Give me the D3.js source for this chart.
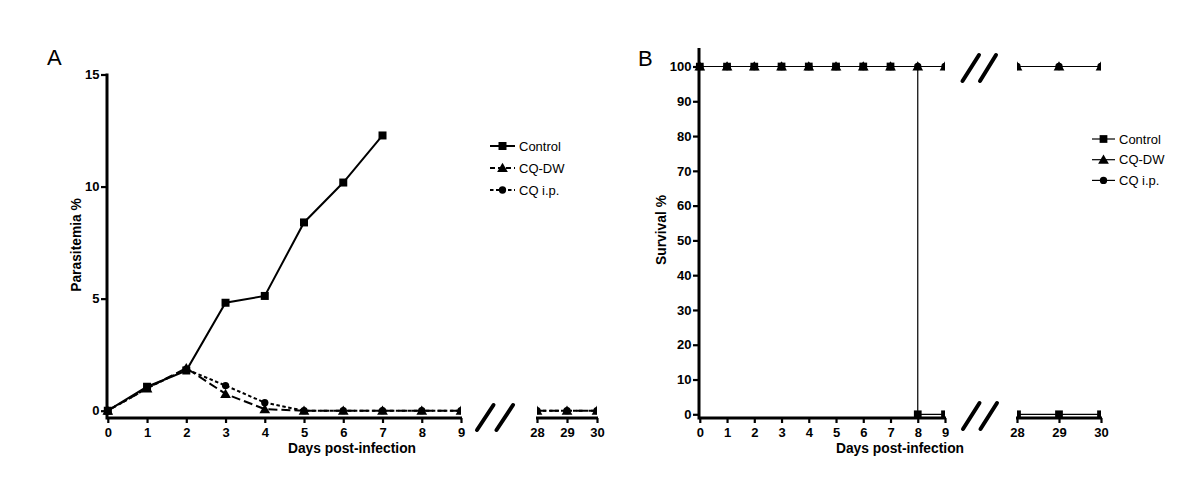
<!DOCTYPE html>
<html>
<head>
<meta charset="utf-8">
<script src="https://cdn.jsdelivr.net/npm/d3@7/dist/d3.min.js"></script>
<style>
  html, body { margin: 0; padding: 0; background: #fff; }
  svg { display: block; }
  text { font-family: "Liberation Sans", Arial, Helvetica, sans-serif; }
</style>
</head>
<body>
<svg id="chart" width="1200" height="484"></svg>
<script>
// ---------------- DATA ----------------
const days = [0, 1, 2, 3, 4, 5, 6, 7, 8, 9, 28, 29, 30];
const xTicksSeg1 = [0, 1, 2, 3, 4, 5, 6, 7, 8, 9];
const xTicksSeg2 = [28, 29, 30];
const yTicksA = [0, 5, 10, 15];
const yTicksB = [0, 10, 20, 30, 40, 50, 60, 70, 80, 90, 100];
const seriesNames = ["Control", "CQ-DW", "CQ i.p."];

// Panel A: parasitemia % (Control only measured days 0-7)
const controlDaysA = [0, 1, 2, 3, 4, 5, 6, 7];
const controlParasitemia = [0, 1.07, 1.79, 4.82, 5.12, 8.4, 10.18, 12.28];
const cqdwParasitemia = [0, 1.0, 1.9, 0.75, 0.07, 0, 0, 0, 0, 0, 0, 0, 0];
const cqipParasitemia = [0, 1.0, 1.85, 1.12, 0.36, 0, 0, 0, 0, 0, 0, 0, 0];

// Panel B: survival %
const controlSurvival = [100, 100, 100, 100, 100, 100, 100, 100, 0, 0, 0, 0, 0];
const cqdwSurvival = [100, 100, 100, 100, 100, 100, 100, 100, 100, 100, 100, 100, 100];
const cqipSurvival = [100, 100, 100, 100, 100, 100, 100, 100, 100, 100, 100, 100, 100];

// ---------------- DRAWING ----------------
const svg = d3.select("#chart");
const FONT_TICK = "bold 13px 'Liberation Sans', Arial, sans-serif";

function zip(xs, ys) { return xs.map((d, i) => ({ x: d, y: ys[i] })); }

function symbolPath(kind, size) {
  const t = kind === "square" ? d3.symbolSquare : kind === "triangle" ? d3.symbolTriangle : d3.symbolCircle;
  return d3.symbol().type(t).size(size)();
}

function drawPanel(cfg) {
  const g = svg.append("g");
  const y = d3.scaleLinear().domain(cfg.yDomain).range(cfg.yRange);
  const x1 = d3.scaleLinear().domain([0, 9]).range(cfg.x1Range);
  const x2 = d3.scaleLinear().domain([28, 30]).range(cfg.x2Range);
  const segs = [
    { x: x1, filter: d => d.x <= 9, id: cfg.id + "s1", clip: [cfg.x1Range[0] - 20, cfg.x1Range[1]] },
    { x: x2, filter: d => d.x >= 28, id: cfg.id + "s2", clip: [cfg.x2Range[0], cfg.x2Range[1]] }
  ];
  const defs = svg.append("defs");
  segs.forEach(s => {
    defs.append("clipPath").attr("id", s.id).append("rect")
      .attr("x", s.clip[0]).attr("y", 0).attr("width", s.clip[1] - s.clip[0]).attr("height", 484);
  });

  // axes
  const yAx = g.append("g").attr("transform", `translate(${cfg.yAxisX},0)`)
    .call(d3.axisLeft(y).tickValues(cfg.yTicks).tickFormat(d3.format("d")).tickSize(6).tickPadding(1.5).tickSizeOuter(0));
  yAx.select(".domain").remove();
  yAx.selectAll(".tick line").attr("stroke", "#000").attr("stroke-width", 2.2);
  yAx.selectAll(".tick text").style("font", FONT_TICK).attr("fill", "#000");
  g.append("line").attr("x1", cfg.yAxisX).attr("x2", cfg.yAxisX)
    .attr("y1", cfg.yAxisTop).attr("y2", cfg.xAxisY + 1.5)
    .attr("stroke", "#000").attr("stroke-width", 3);

  [[x1, xTicksSeg1], [x2, xTicksSeg2]].forEach(([sc, tv], i) => {
    const ax = g.append("g").attr("transform", `translate(0,${cfg.xAxisY})`)
      .call(d3.axisBottom(sc).tickValues(tv).tickFormat(d3.format("d")).tickSize(5).tickPadding(5).tickSizeOuter(0));
    ax.select(".domain").remove();
    ax.selectAll(".tick line").attr("stroke", "#000").attr("stroke-width", 2.2);
    ax.selectAll(".tick text").style("font", FONT_TICK).attr("fill", "#000");
    const r = sc.range();
    g.append("line").attr("x1", i === 0 ? cfg.yAxisX : r[0] - 1).attr("x2", r[1] + 1)
      .attr("y1", cfg.xAxisY).attr("y2", cfg.xAxisY)
      .attr("stroke", "#000").attr("stroke-width", 3);
  });

  // break slashes
  cfg.slashes.forEach(sl => {
    g.append("line").attr("x1", sl[0]).attr("y1", sl[1]).attr("x2", sl[2]).attr("y2", sl[3])
      .attr("stroke", "#000").attr("stroke-width", 4).attr("stroke-linecap", "round");
  });

  // series
  cfg.series.forEach(se => {
    segs.forEach(s => {
      const pts = se.data.filter(s.filter);
      if (!pts.length) return;
      const sg = g.append("g").attr("clip-path", `url(#${s.id})`);
      const line = d3.line().x(d => s.x(d.x)).y(d => y(d.y));
      if (se.curve) line.curve(se.curve);
      sg.append("path").datum(pts).attr("d", line)
        .attr("fill", "none").attr("stroke", "#000")
        .attr("stroke-width", cfg.lineWidth)
        .attr("stroke-dasharray", se.dash || null);
      sg.selectAll(null).data(pts).enter().append("path")
        .attr("d", symbolPath(se.symbol, se.size))
        .attr("transform", d => `translate(${s.x(d.x)},${y(d.y) + (se.symbol === "triangle" ? 1 : 0)})`)
        .attr("fill", "#000");
    });
  });

  // axis titles
  g.append("text").attr("transform", `translate(${cfg.yTitleX},${cfg.yTitleY}) rotate(-90)`)
    .attr("text-anchor", "middle").style("font", "bold 13.8px 'Liberation Sans', Arial, sans-serif")
    .text(cfg.yTitle);
  g.append("text").attr("x", (cfg.yAxisX + cfg.x2Range[1]) / 2).attr("y", 453)
    .attr("text-anchor", "middle").style("font", "bold 13.8px 'Liberation Sans', Arial, sans-serif")
    .text("Days post-infection");

  // panel letter
  g.append("text").attr("x", cfg.letterX).attr("y", cfg.letterY)
    .style("font", "22px 'Liberation Sans', Arial, sans-serif").text(cfg.letter);

  // legend
  const leg = cfg.legend;
  cfg.series.slice().sort((a, b) => a.order - b.order).forEach((se, i) => {
    const ly = leg.y + i * leg.dy;
    g.append("line").attr("x1", leg.x).attr("x2", leg.x + leg.w).attr("y1", ly).attr("y2", ly)
      .attr("stroke", "#000").attr("stroke-width", cfg.lineWidth)
      .attr("stroke-dasharray", se.legendDash || null);
    g.append("path").attr("d", symbolPath(se.symbol, se.size))
      .attr("transform", `translate(${leg.x + leg.w / 2},${ly + (se.symbol === "triangle" ? 1 : 0)})`)
      .attr("fill", "#000");
    g.append("text").attr("x", leg.x + leg.w + 4).attr("y", ly).attr("dy", "0.36em")
      .style("font", "13px 'Liberation Sans', Arial, sans-serif").text(seriesNames[se.order]);
  });
}

// Panel A
drawPanel({
  id: "A", letter: "A", letterX: 47, letterY: 65,
  yDomain: [0, 15], yRange: [410.7, 74.5], yTicks: yTicksA,
  x1Range: [107.8, 461], x2Range: [537, 597],
  yAxisX: 107, yAxisTop: 73.5, xAxisY: 418,
  yTitle: "Parasitemia %", yTitleX: 81, yTitleY: 245,
  lineWidth: 2,
  slashes: [[477, 430, 493.5, 405], [496.5, 430, 513, 405]],
  legend: { x: 490, y: 146, dy: 22, w: 25 },
  series: [
    { order: 2, data: zip(days, cqipParasitemia), symbol: "circle", size: 42, dash: "3.5,2.5", legendDash: "3.5,2.5" },
    { order: 1, data: zip(days, cqdwParasitemia), symbol: "triangle", size: 50, dash: "9,4", legendDash: "5,3" },
    { order: 0, data: zip(controlDaysA, controlParasitemia), symbol: "square", size: 64 }
  ]
});

// Panel B
drawPanel({
  id: "B", letter: "B", letterX: 638, letterY: 66,
  yDomain: [0, 100], yRange: [414.3, 66.5], yTicks: yTicksB,
  x1Range: [699.8, 945], x2Range: [1017, 1101],
  yAxisX: 699, yAxisTop: 48, xAxisY: 418,
  yTitle: "Survival %", yTitleX: 666, yTitleY: 230,
  lineWidth: 1.2,
  slashes: [[962.5, 81, 979, 55], [980, 81, 996, 55], [963, 429, 979.5, 403], [980.5, 429, 997, 403]],
  legend: { x: 1092, y: 139, dy: 20.7, w: 23 },
  series: [
    { order: 1, data: zip(days, cqdwSurvival), symbol: "triangle", size: 50 },
    { order: 2, data: zip(days, cqipSurvival), symbol: "circle", size: 42 },
    { order: 0, data: zip(days, controlSurvival), symbol: "square", size: 60, curve: d3.curveStepAfter }
  ]
});
</script>
</body>
</html>
